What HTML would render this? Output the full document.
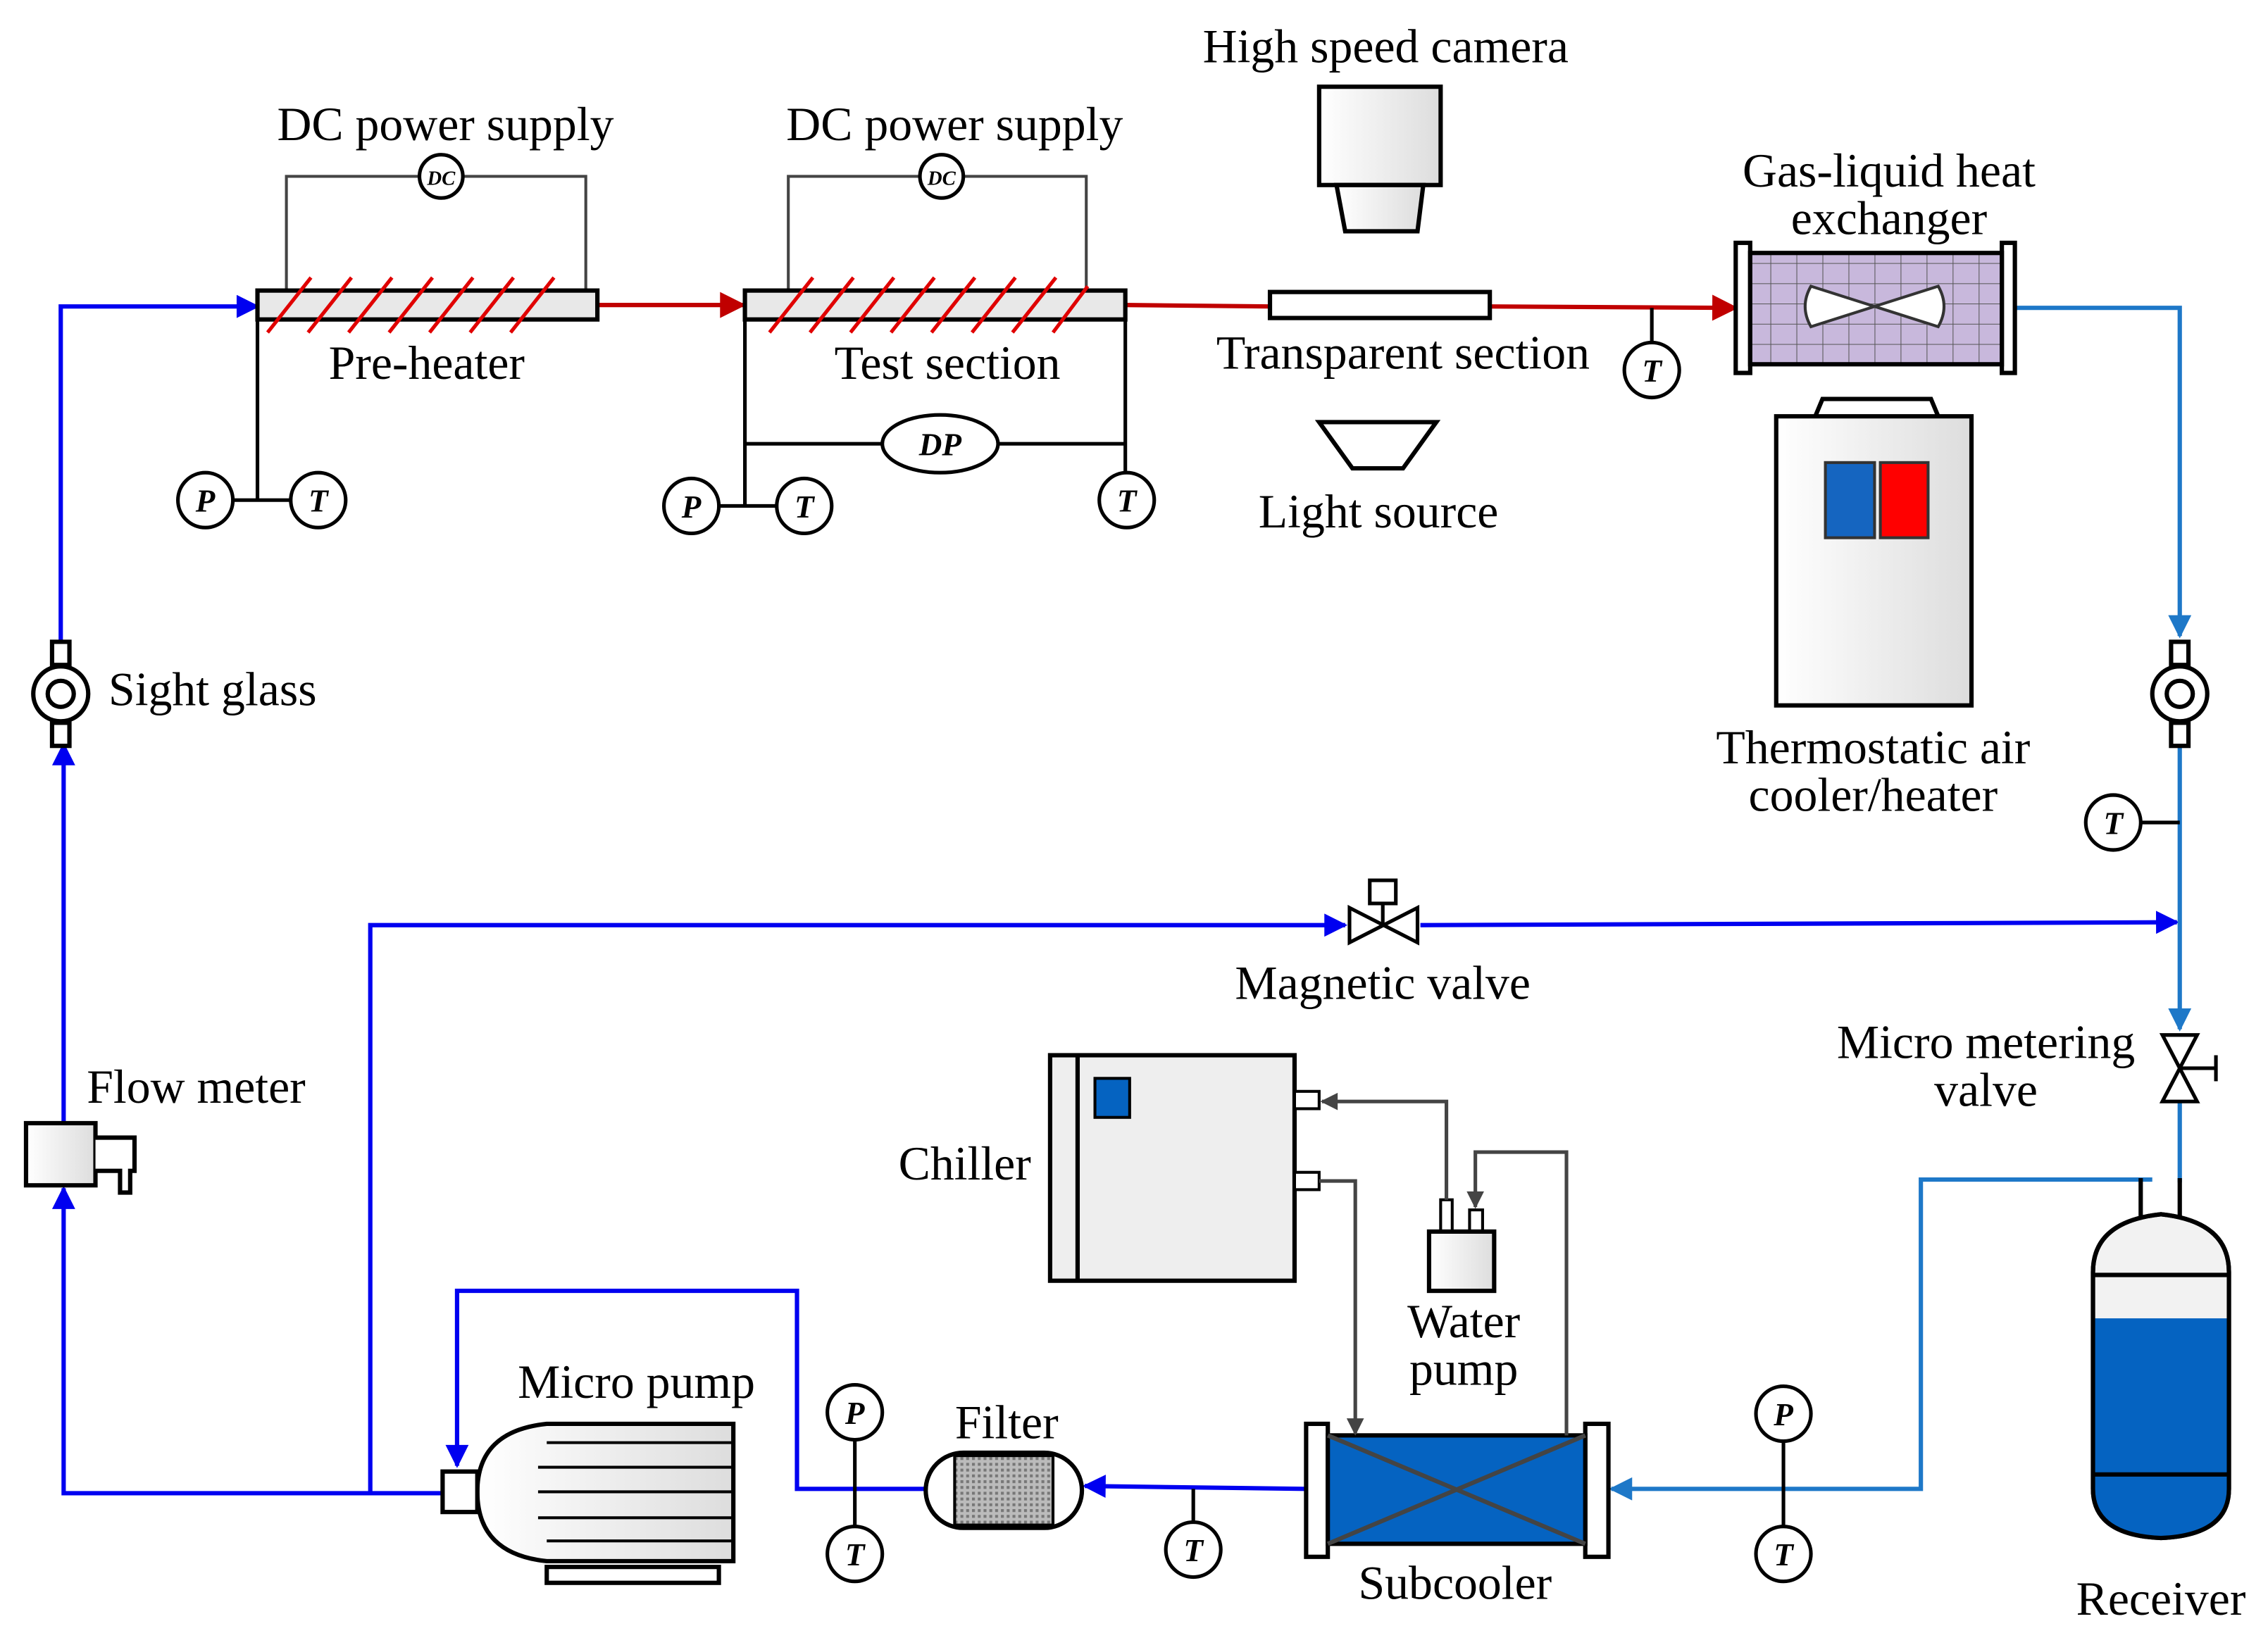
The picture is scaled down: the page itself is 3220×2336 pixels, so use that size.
<!DOCTYPE html>
<html><head><meta charset="utf-8">
<style>
html,body{margin:0;padding:0;background:#fff;}
svg{display:block;}
text{font-family:"Liberation Serif",serif;fill:#000;}
.lbl{font-size:33px;text-anchor:middle;}
.ci{font-size:22px;font-style:italic;font-weight:bold;text-anchor:middle;}
</style></head>
<body>
<svg width="3220" height="2336" viewBox="0 0 1568 1138" preserveAspectRatio="none" xmlns="http://www.w3.org/2000/svg">
<defs>
<marker id="al" viewBox="0 0 10 10" refX="9" refY="5" markerWidth="22" markerHeight="16" orient="auto" markerUnits="userSpaceOnUse"><path d="M0,0 L10,5 L0,10 z" fill="#1e78c8"/></marker>
<marker id="ab2" viewBox="0 0 10 10" refX="9" refY="5" markerWidth="22" markerHeight="16" orient="auto" markerUnits="userSpaceOnUse"><path d="M0,0 L10,5 L0,10 z" fill="#0000f0"/></marker>
<marker id="ar" viewBox="0 0 10 10" refX="9" refY="5" markerWidth="24" markerHeight="18" orient="auto" markerUnits="userSpaceOnUse"><path d="M0,0 L10,5 L0,10 z" fill="#c00000"/></marker>
<marker id="ag" viewBox="0 0 10 10" refX="9" refY="5" markerWidth="16" markerHeight="12" orient="auto" markerUnits="userSpaceOnUse"><path d="M0,0 L10,5 L0,10 z" fill="#444"/></marker>
<pattern id="grid" width="18" height="14" patternUnits="userSpaceOnUse"><rect width="18" height="14" fill="#c8b8dc"/><path d="M0,0H18M0,0V14" stroke="#555" stroke-width="1"/></pattern>
<pattern id="dots" width="4" height="4" patternUnits="userSpaceOnUse"><rect width="4" height="4" fill="#bbb"/><rect width="2" height="2" fill="#777"/></pattern>
<linearGradient id="gr" x1="0" x2="1"><stop offset="0" stop-color="#fff"/><stop offset="1" stop-color="#ddd"/></linearGradient>
</defs>

<g fill="none" stroke="#0000f0" stroke-width="3">
<polyline points="306,1033 44,1033 44,822" marker-end="url(#ab2)"/>
<line x1="44" y1="777" x2="44" y2="515" marker-end="url(#ab2)"/>
<polyline points="42,444 42,212 178,212" marker-end="url(#ab2)"/>
<polyline points="256,1033 256,640 930,640" marker-end="url(#ab2)"/>
<line x1="982" y1="640" x2="1505" y2="638" marker-end="url(#ab2)"/>
<polyline points="640,1030 551,1030 551,893 316,893 316,1014" marker-end="url(#ab2)"/>
<line x1="903" y1="1030" x2="750" y2="1028" marker-end="url(#ab2)"/>
</g>
<g fill="none" stroke="#1e78c8" stroke-width="3">
<polyline points="1392,213 1507,213 1507,440" marker-end="url(#al)"/>
<line x1="1507" y1="515" x2="1507" y2="712" marker-end="url(#al)"/>
<line x1="1507" y1="762" x2="1507" y2="818"/>
<polyline points="1488,816 1328,816 1328,1030 1114,1030" marker-end="url(#al)"/>
</g>
<g fill="none" stroke="#c00000" stroke-width="3">
<line x1="413" y1="211" x2="514" y2="211" marker-end="url(#ar)"/>
<line x1="778" y1="211" x2="878" y2="212"/>
<line x1="1030" y1="212" x2="1200" y2="213" marker-end="url(#ar)"/>
</g>

<g fill="none" stroke="#444" stroke-width="2">
<polyline points="198,201 198,122 405,122 405,201"/>
<polyline points="545,201 545,122 751,122 751,201"/>
</g>
<g stroke="#000" stroke-width="2.5" fill="#fff">
<circle cx="305" cy="122" r="15"/><circle cx="651" cy="122" r="15"/>
</g>
<text x="305" y="128" font-size="14" font-style="italic" font-weight="bold" text-anchor="middle">DC</text>
<text x="651" y="128" font-size="14" font-style="italic" font-weight="bold" text-anchor="middle">DC</text>
<text class="lbl" x="308" y="97">DC power supply</text>
<text class="lbl" x="660" y="97">DC power supply</text>

<rect x="178" y="201" width="235" height="20" fill="#e8e8e8" stroke="#000" stroke-width="3"/>
<rect x="515" y="201" width="263" height="20" fill="#e8e8e8" stroke="#000" stroke-width="3"/>
<g stroke="#e00000" stroke-width="2.5">
<path d="M185,230 L215,192 M213,230 L243,192 M241,230 L271,192 M269,230 L299,192 M297,230 L327,192 M325,230 L355,192 M353,230 L383,192"/>
<path d="M532,230 L562,192 M560,230 L590,192 M588,230 L618,192 M616,230 L646,192 M644,230 L674,192 M672,230 L702,192 M700,230 L730,192 M728,230 L752,198"/>
</g>
<text class="lbl" x="295" y="262">Pre-heater</text>
<text class="lbl" x="655" y="262">Test section</text>

<g stroke="#000" stroke-width="2.5" fill="none">
<line x1="178" y1="221" x2="178" y2="346"/><line x1="142" y1="346" x2="220" y2="346"/>
<line x1="515" y1="221" x2="515" y2="350"/><line x1="478" y1="350" x2="556" y2="350"/>
<line x1="778" y1="221" x2="778" y2="346"/>
<line x1="515" y1="307" x2="778" y2="307"/>
<line x1="1142" y1="213" x2="1142" y2="256"/>
<line x1="1461" y1="569" x2="1507" y2="569"/>
<line x1="1233" y1="978" x2="1233" y2="1075"/>
<line x1="591" y1="977" x2="591" y2="1075"/>
<line x1="825" y1="1030" x2="825" y2="1072"/>
</g>
<ellipse cx="650" cy="307" rx="40" ry="20" fill="#fff" stroke="#000" stroke-width="2.5"/>
<text class="ci" x="650" y="315">DP</text>

<g stroke="#000" stroke-width="2.5" fill="#fff">
<circle cx="142" cy="346" r="19"/><circle cx="220" cy="346" r="19"/>
<circle cx="478" cy="350" r="19"/><circle cx="556" cy="350" r="19"/>
<circle cx="779" cy="346" r="19"/><circle cx="1142" cy="256" r="19"/>
<circle cx="1461" cy="569" r="19"/>
<circle cx="1233" cy="978" r="19"/><circle cx="1233" cy="1075" r="19"/>
<circle cx="591" cy="977" r="19"/><circle cx="591" cy="1075" r="19"/>
<circle cx="825" cy="1072" r="19"/>
</g>
<text class="ci" x="142" y="354">P</text><text class="ci" x="220" y="354">T</text>
<text class="ci" x="478" y="358">P</text><text class="ci" x="556" y="358">T</text>
<text class="ci" x="779" y="354">T</text><text class="ci" x="1142" y="264">T</text>
<text class="ci" x="1461" y="577">T</text>
<text class="ci" x="1233" y="986">P</text><text class="ci" x="1233" y="1083">T</text>
<text class="ci" x="591" y="985">P</text><text class="ci" x="591" y="1083">T</text>
<text class="ci" x="825" y="1080">T</text>

<rect x="878" y="202" width="152" height="18" fill="#fff" stroke="#000" stroke-width="3"/>
<text class="lbl" x="970" y="255">Transparent section</text>
<rect x="912" y="60" width="84" height="68" fill="url(#gr)" stroke="#000" stroke-width="3"/>
<path d="M924,128 L984,128 L980,160 L930,160 Z" fill="url(#gr)" stroke="#000" stroke-width="3"/>
<text class="lbl" x="958" y="43">High speed camera</text>
<path d="M912,292 L993,292 L970,324 L935,324 Z" fill="#fff" stroke="#000" stroke-width="3"/>
<text class="lbl" x="953" y="365">Light source</text>

<rect x="1200" y="168" width="10" height="90" fill="#fff" stroke="#000" stroke-width="3"/>
<rect x="1384" y="168" width="9" height="90" fill="#fff" stroke="#000" stroke-width="3"/>
<rect x="1210" y="175" width="174" height="77" fill="url(#grid)" stroke="#000" stroke-width="3"/>
<path d="M1296,212 L1252,198 Q1244,212 1252,226 Z M1296,212 L1340,198 Q1348,212 1340,226 Z" fill="#fff" stroke="#333" stroke-width="2"/>
<text class="lbl" x="1306" y="129">Gas-liquid heat</text>
<text class="lbl" x="1306" y="162">exchanger</text>

<path d="M1255,288 L1260,276 L1335,276 L1340,288" fill="#fff" stroke="#000" stroke-width="3"/>
<rect x="1228" y="288" width="135" height="200" fill="url(#gr)" stroke="#000" stroke-width="3"/>
<rect x="1262" y="320" width="34" height="52" fill="#1565c0" stroke="#333" stroke-width="2"/>
<rect x="1300" y="320" width="33" height="52" fill="#ff0000" stroke="#333" stroke-width="2"/>
<text class="lbl" x="1295" y="528">Thermostatic air</text>
<text class="lbl" x="1295" y="561">cooler/heater</text>

<g stroke="#000" stroke-width="3" fill="#fff">
<rect x="36" y="444" width="12" height="16"/><rect x="36" y="500" width="12" height="16"/>
<circle cx="42" cy="480" r="19"/><circle cx="42" cy="480" r="9"/>
<rect x="1501" y="444" width="12" height="16"/><rect x="1501" y="500" width="12" height="16"/>
<circle cx="1507" cy="480" r="19"/><circle cx="1507" cy="480" r="9"/>
</g>
<text x="75" y="488" font-size="33">Sight glass</text>

<rect x="18" y="777" width="48" height="43" fill="url(#gr)" stroke="#000" stroke-width="3"/>
<path d="M66,787 L93,787 L93,810 L90,810 L90,825 L83,825 L83,810 L66,810" fill="#fff" stroke="#000" stroke-width="3"/>
<text x="60" y="763" font-size="33">Flow meter</text>

<g stroke="#000" stroke-width="2.5" fill="#fff">
<path d="M933,628 L980,652 L980,628 L933,652 Z"/>
<line x1="956" y1="640" x2="956" y2="625"/>
<rect x="947" y="609" width="18" height="16"/>
</g>
<text class="lbl" x="956" y="691">Magnetic valve</text>

<g stroke="#000" stroke-width="2.5" fill="#fff">
<path d="M1495,716 L1519,716 L1495,762 L1519,762 Z"/>
<line x1="1507" y1="739" x2="1532" y2="739"/><line x1="1532" y1="730" x2="1532" y2="748"/>
</g>
<text class="lbl" x="1373" y="732">Micro metering</text>
<text class="lbl" x="1373" y="765">valve</text>

<g stroke="#000" stroke-width="3">
<line x1="1480" y1="815" x2="1480" y2="845"/><line x1="1507" y1="815" x2="1507" y2="845"/>
<path d="M1447,880 Q1447,845 1494,840 Q1541,845 1541,880 L1541,1030 Q1541,1062 1494,1064 Q1447,1062 1447,1030 Z" fill="#f2f2f2"/>
<path d="M1448,912 L1540,912 L1540,1030 Q1541,1062 1494,1064 Q1447,1062 1448,1030 Z" fill="#0563c1" stroke="none"/>
<path d="M1447,880 Q1447,845 1494,840 Q1541,845 1541,880 L1541,1030 Q1541,1062 1494,1064 Q1447,1062 1447,1030 Z" fill="none"/>
<line x1="1447" y1="882" x2="1541" y2="882"/><line x1="1447" y1="1020" x2="1541" y2="1020"/>
</g>
<text class="lbl" x="1494" y="1117">Receiver</text>

<g stroke="#000" stroke-width="3">
<rect x="903" y="985" width="15" height="92" fill="#fff"/>
<rect x="1096" y="985" width="16" height="92" fill="#fff"/>
<rect x="918" y="993" width="178" height="75" fill="#0563c1"/>
<path d="M918,993 L1096,1068 M918,1068 L1096,993" stroke="#444"/>
</g>
<text class="lbl" x="1006" y="1106">Subcooler</text>

<rect x="640" y="1005" width="108" height="52" rx="26" fill="#fff" stroke="#000" stroke-width="3"/>
<rect x="660" y="1007" width="68" height="48" fill="url(#dots)" stroke="#000" stroke-width="2"/>
<text class="lbl" x="696" y="995">Filter</text>

<g stroke="#000" stroke-width="3">
<path d="M378,985 L507,985 L507,1080 L378,1080 Q330,1075 330,1032 Q330,990 378,985 Z" fill="url(#gr)"/>
<path d="M378,998 L507,998 M372,1015 L507,1015 M372,1032 L507,1032 M372,1050 L507,1050 M378,1066 L507,1066" stroke-width="2"/>
<rect x="306" y="1018" width="24" height="28" fill="#fff"/>
<rect x="378" y="1084" width="119" height="11" fill="#fff"/>
</g>
<text class="lbl" x="440" y="967">Micro pump</text>

<rect x="726" y="730" width="169" height="156" fill="#eee" stroke="#000" stroke-width="3"/>
<line x1="745" y1="730" x2="745" y2="886" stroke="#000" stroke-width="3"/>
<rect x="757" y="746" width="24" height="27" fill="#0563c1" stroke="#000" stroke-width="2"/>
<rect x="895" y="755" width="17" height="12" fill="#fff" stroke="#000" stroke-width="2"/>
<rect x="895" y="811" width="17" height="12" fill="#fff" stroke="#000" stroke-width="2"/>
<text class="lbl" x="667" y="816">Chiller</text>

<rect x="996" y="830" width="8" height="22" fill="#fff" stroke="#000" stroke-width="2"/>
<rect x="1016" y="837" width="9" height="15" fill="#fff" stroke="#000" stroke-width="2"/>
<rect x="988" y="852" width="45" height="41" fill="url(#gr)" stroke="#000" stroke-width="3"/>
<text class="lbl" x="1012" y="925">Water</text>
<text class="lbl" x="1012" y="958">pump</text>
<g fill="none" stroke="#444" stroke-width="2.5">
<polyline points="1000,830 1000,762 914,762" marker-end="url(#ag)"/>
<polyline points="912,817 937,817 937,992" marker-end="url(#ag)"/>
<polyline points="1083,993 1083,797 1020,797 1020,835" marker-end="url(#ag)"/>
</g>
</svg>
</body></html>
